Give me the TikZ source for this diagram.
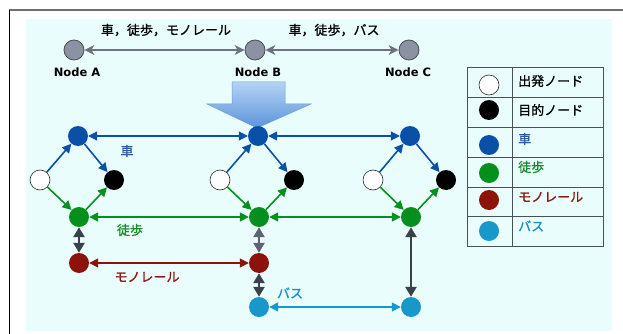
\documentclass[tikz,border=0pt]{standalone}
\usepackage{fontspec}
\usetikzlibrary{arrows.meta}
\newfontfamily\jpfont[FakeBold=0.9]{Noto Sans CJK JP}
\newfontfamily\labfont{DejaVu Sans}

\definecolor{bgcyan}{HTML}{EAFDFD}
\definecolor{framegray}{HTML}{6E6E6E}
\definecolor{carblue}{HTML}{0A50A6}
\definecolor{walkgreen}{HTML}{05901E}
\definecolor{railred}{HTML}{8C120A}
\definecolor{busblue}{HTML}{1898C8}
\definecolor{cartext}{HTML}{2A5AA2}
\definecolor{walktext}{HTML}{1A8A2A}
\definecolor{railtext}{HTML}{8B1A12}
\definecolor{bustext}{HTML}{1A90C2}
\definecolor{nodegray}{HTML}{8A92A4}
\definecolor{edgegray}{HTML}{6C727E}
\definecolor{linkdark}{HTML}{3C404A}
\definecolor{linkmid}{HTML}{5C6270}
\definecolor{gridline}{HTML}{4A5058}
\definecolor{arrowtop}{HTML}{B4D2F4}
\definecolor{arrowbot}{HTML}{5C94DC}
\definecolor{arrowedge}{HTML}{6E9CD4}

\tikzset{
  dot/.style={circle, minimum size=20pt, inner sep=0pt},
  gnode/.style={dot, fill=nodegray, draw=black!70, line width=0.8pt},
  startnode/.style={dot, fill=white, draw=black!85, line width=0.6pt},
  goalnode/.style={dot, fill=black},
  carnode/.style={dot, fill=carblue},
  walknode/.style={dot, fill=walkgreen},
  railnode/.style={dot, fill=railred},
  busnode/.style={dot, fill=busblue},
  tip/.style={-{Triangle[length=9pt,width=9pt]}},
  twoway/.style={{Triangle[length=9pt,width=9pt]}-{Triangle[length=9pt,width=9pt]}},
  lnk/.style={line width=1.6pt},
  updown/.style={line width=2.6pt, {Triangle[length=10pt,width=11pt]}-{Triangle[length=10pt,width=11pt]}},
  topedge/.style={edgegray, line width=1.8pt,
    {Stealth[length=10pt,width=10pt,inset=3pt]}-{Stealth[length=10pt,width=10pt,inset=3pt]}},
  jp/.style={font=\jpfont\fontsize{13}{15}\selectfont, inner sep=0pt},
  nodename/.style={font=\labfont\bfseries\fontsize{11.5}{13}\selectfont, inner sep=0pt},
}

\begin{document}
\begin{tikzpicture}[x=1pt, y=-1pt]
  \useasboundingbox (0,0) rectangle (623,334);
  % page, panel and frame
  \fill[white] (0,0) rectangle (623,334);
  \fill[bgcyan] (26,19) rectangle (612,331);
  \draw[framegray, line width=2pt] (9,10) -- (623,10);
  \draw[black, line width=1.5pt] (9.5,10) -- (9.5,334);

  % abstract network
  \node[gnode] (A) at (74,50) {};
  \node[gnode] (B) at (255,50) {};
  \node[gnode] (C) at (409,50) {};
  \draw[topedge] (A) -- (B);
  \draw[topedge] (B) -- (C);
  \node[jp] (tAB) at (166,30) {車，徒歩，モノレール};
  \node[jp] (tBC) at (334,30) {車，徒歩，バス};
  \node[nodename] (nA) at (77,72) {Node A};
  \node[nodename] (nB) at (258,72) {Node B};
  \node[nodename] (nC) at (408,72) {Node C};

  % expansion arrow
  \shade[top color=arrowtop, bottom color=arrowbot, draw=arrowedge, line width=0.5pt]
    (232,82) -- (285,82) -- (285,104) -- (311,104) -- (257,128) -- (207,104) -- (232,104) -- cycle;

  % expanded network nodes
  \node[carnode] (c1) at (78,136) {};
  \node[carnode] (c2) at (258,136) {};
  \node[carnode] (c3) at (410,136) {};
  \node[startnode] (s1) at (40,180) {};
  \node[startnode] (s2) at (220,180) {};
  \node[startnode] (s3) at (373,180) {};
  \node[goalnode] (g1) at (114,180) {};
  \node[goalnode] (g2) at (294,180) {};
  \node[goalnode] (g3) at (446,180) {};
  \node[walknode] (w1) at (79,217) {};
  \node[walknode] (w2) at (259,217) {};
  \node[walknode] (w3) at (411,217) {};
  \node[railnode] (r1) at (79,263) {};
  \node[railnode] (r2) at (259,263) {};
  \node[busnode] (b2) at (259,307) {};
  \node[busnode] (b3) at (411,307) {};

  % local access links
  \foreach \i in {1,2,3}{
    \draw[lnk, tip, carblue] (s\i) -- (c\i);
    \draw[lnk, tip, carblue] (c\i) -- (g\i);
    \draw[lnk, tip, walkgreen] (s\i) -- (w\i);
    \draw[lnk, tip, walkgreen] (w\i) -- (g\i);
  }

  % mode links
  \draw[lnk, twoway, carblue] (c1) -- (c2);
  \draw[lnk, twoway, carblue] (c2) -- (c3);
  \draw[lnk, twoway, walkgreen] (w1) -- (w2);
  \draw[lnk, twoway, walkgreen] (w2) -- (w3);
  \draw[lnk, twoway, railred] (r1) -- (r2);
  \draw[lnk, twoway, busblue] (b2) -- (b3);

  % transfer links
  \draw[updown, linkdark] (w1) -- (r1);
  \draw[updown, linkmid] (w2) -- (r2);
  \draw[updown, linkdark] (r2) -- (b2);
  \draw[updown, linkdark] (w3) -- (b3);

  \node[jp, text=cartext] (lc) at (127,151) {車};
  \node[jp, text=walktext] (lw) at (130,230) {徒歩};
  \node[jp, text=railtext] (lr) at (147,277) {モノレール};
  \node[jp, text=bustext] (lb) at (290,293) {バス};

  % legend
  \draw[gridline, line width=0.9pt] (467,67) rectangle (603,246);
  \draw[gridline, line width=0.9pt] (512,67) -- (512,246);
  \foreach \yy in {97,127,157,187,216}{
    \draw[gridline, line width=0.9pt] (467,\yy) -- (603,\yy);
  }
  \node[startnode] (k1) at (489,85) {};
  \node[goalnode] (k2) at (489,110) {};
  \node[carnode] (k3) at (489,145) {};
  \node[walknode] (k4) at (489,173) {};
  \node[railnode] (k5) at (489,200) {};
  \node[busnode] (k6) at (489,231) {};
  \node[jp, anchor=west] (e1) at (518,81) {出発ノード};
  \node[jp, anchor=west] (e2) at (518,110) {目的ノード};
  \node[jp, anchor=west, text=cartext] (e3) at (518,139) {車};
  \node[jp, anchor=west, text=walktext] (e4) at (518,167) {徒歩};
  \node[jp, anchor=west, text=railtext] (e5) at (518,197) {モノレール};
  \node[jp, anchor=west, text=bustext] (e6) at (518,226) {バス};
\end{tikzpicture}
\end{document}
